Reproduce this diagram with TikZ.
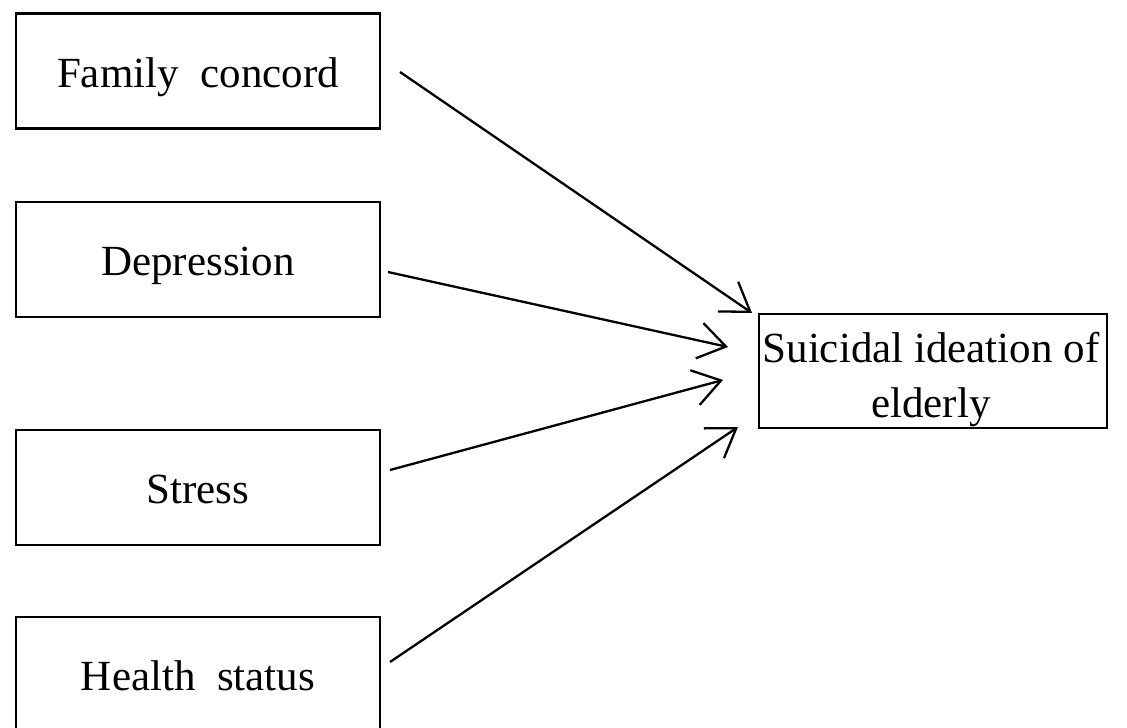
\documentclass[tikz,border=0pt]{standalone}
\usepackage{fontspec}
\setmainfont{Liberation Serif}
\usetikzlibrary{arrows.meta}
\begin{document}
\begin{tikzpicture}[x=1pt,y=-1pt,
  box/.style={draw=black,line width=2.8pt,rectangle,inner sep=0pt,
    minimum width=364pt,minimum height=115pt,
    font=\fontsize{43}{55}\selectfont,align=center,text height=34pt,text depth=2pt},
  link/.style={draw=black,line width=2.3pt,-{Straight Barb[length=27pt,width=36pt,line width=2.3pt]}}]
\clip (0,0) rectangle (1127,728);
\fill[white] (0,0) rectangle (1127,728);
\node[box] (fc) at (198,71) {Family\ \ concord};
\node[box] (dep) at (198,259.5) {Depression};
\node[box] (str) at (198,487.5) {Stress};
\node[box] (hs) at (198,674.5) {Health\ \ status};
\node[draw=black,line width=2.8pt,rectangle,inner sep=0pt,minimum width=348pt,minimum height=114pt] (sie) at (933,371) {};
\node[font=\fontsize{43}{55}\selectfont,align=center,anchor=base,inner sep=0pt] (sietext) at (931,417) {Suicidal ideation of\\elderly};
\coordinate (s1) at (400,72);
\coordinate (s2) at (388,272);
\coordinate (s3) at (390,470);
\coordinate (s4) at (390,662);
\coordinate (e1) at (752,313);
\coordinate (e2) at (728,347);
\coordinate (e3) at (723,380);
\coordinate (e4) at (738,427);
\draw[link] (s1) -- (e1);
\draw[link] (s2) -- (e2);
\draw[link] (s3) -- (e3);
\draw[link] (s4) -- (e4);
\end{tikzpicture}
\end{document}
